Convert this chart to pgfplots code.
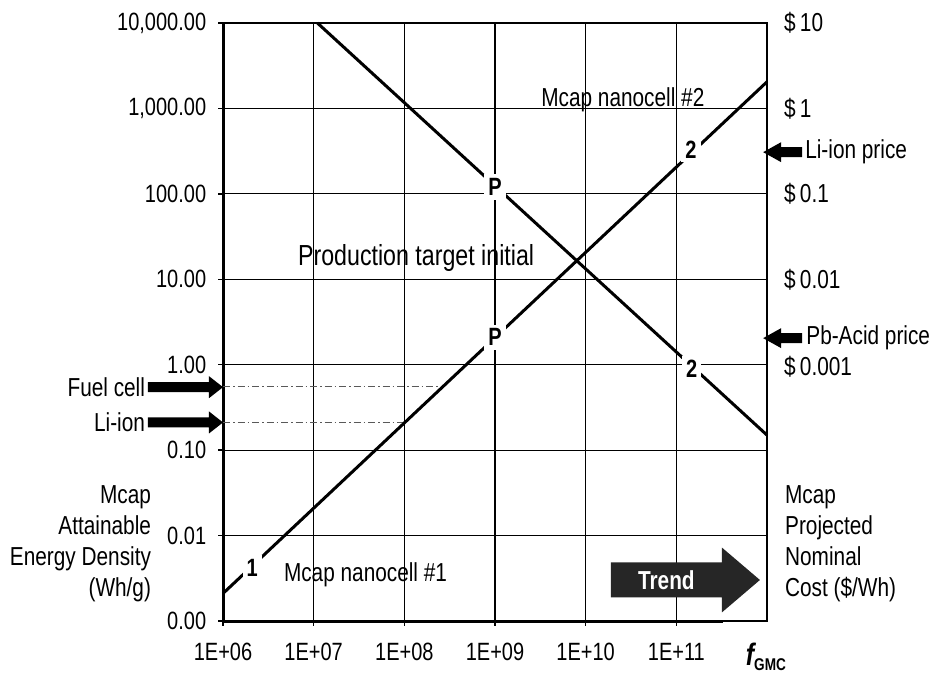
\documentclass[border=0pt]{standalone}
\usepackage{pgfplots}
\pgfplotsset{compat=1.18}
\usepackage{fontspec}
\setmainfont{Liberation Sans}[FakeStretch=0.8]

% data (log-log)
\pgfplotstableread{
x y
1e6 0.0021
1e12 2050
}\nanocellone
\pgfplotstableread{
x y
1.1e7 10000
1e12 0.15
}\nanocelltwo

\begin{document}
\fontsize{26}{31}\selectfont
\begin{tikzpicture}
\useasboundingbox (-223pt,-54pt) rectangle (712pt,621pt);
\begin{axis}[
  at={(0,0)}, anchor=south west,
  scale only axis, width=544pt, height=598pt,
  xmode=log, ymode=log,
  xmin=1e6, xmax=1e12, ymin=1e-3, ymax=1e4,
  xtick={1e6,1e7,1e8,1e9,1e10,1e11},
  xticklabels={1E+06,1E+07,1E+08,1E+09,1E+10,1E+11},
  ytick={1e-3,1e-2,1e-1,1,10,100,1000,10000},
  yticklabels={0.00,0.01,0.10,1.00,10.00,100.00,{1,000.00},{10,000.00}},
  xminorticks=false, yminorticks=false,
  xtick pos=left, ytick pos=left,
  tick align=outside, major tick length=5pt,
  tick style={black, line width=1.5pt},
  tick label style={font=\fontsize{25}{28}\selectfont},
  yticklabel style={xshift=-3pt},
  xticklabel style={yshift=-8pt},
  grid=major,
  major grid style={black, line width=1.1pt},
  axis line style={black, line width=1.3pt},
  clip=false,
]
% thick left and bottom axis lines
\draw[line width=3pt] (rel axis cs:0,1) -- (rel axis cs:0,0) -- (rel axis cs:0.92,0);

% reference levels
\addplot[black!65, line width=1pt, dash pattern=on 7pt off 3pt on 1.5pt off 3pt]
  coordinates {(1e6,0.55) (2.75e8,0.55)};
\addplot[black!65, line width=1pt, dash pattern=on 7pt off 3pt on 1.5pt off 3pt]
  coordinates {(1e6,0.21) (1.05e8,0.21)};

% trend lines
\addplot[black, line width=3pt] table {\nanocellone};
\addplot[black, line width=3pt] table {\nanocelltwo};

% point labels on the lines
\tikzset{lbl/.style={fill=white, inner sep=4pt, font=\bfseries\fontsize{25}{27}\selectfont}}
\node[lbl] at (axis cs:2.1e6,0.0042) {1};
\node[lbl] at (axis cs:1e9,2.1) {P};
\node[lbl] at (axis cs:1e9,120) {P};
\node[lbl] at (axis cs:1.45e11,330) {2};
\node[lbl] at (axis cs:1.48e11,0.9) {2};

% text inside the plot
\node[font=\fontsize{29}{31}\selectfont] at (rel axis cs:0.355,0.607) {Production target initial};
\node at (rel axis cs:0.735,0.871) {Mcap nanocell \#2};
\node at (rel axis cs:0.262,0.077) {Mcap nanocell \#1};

% trend arrow
\fill[black!85] (rel axis cs:0.713,0.0393) -- (rel axis cs:0.917,0.0393)
  -- (rel axis cs:0.917,0.0143) -- (rel axis cs:0.987,0.0686)
  -- (rel axis cs:0.917,0.1229) -- (rel axis cs:0.917,0.0979)
  -- (rel axis cs:0.713,0.0979) -- cycle;
\node[white, font=\bfseries\fontsize{26}{28}\selectfont] at (rel axis cs:0.815,0.0686) {Trend};

% anchor points for the markers outside the plot
\coordinate (fuel) at (rel axis cs:0,0.391);
\coordinate (liion) at (rel axis cs:0,0.332);
\coordinate (liprice) at (rel axis cs:0.993,0.784);
\coordinate (pbprice) at (rel axis cs:0.993,0.473);

\tikzset{side/.style={inner sep=0pt}}
\node[side, anchor=east] at (rel axis cs:-0.143,0.391) {Fuel cell};
\node[side, anchor=east] at (rel axis cs:-0.143,0.332) {Li-ion};
\node[side, anchor=east, align=right] at (rel axis cs:-0.132,0.129)
  {Mcap\\Attainable\\Energy Density\\(Wh/g)};

% right side: cost scale
\node[side, anchor=west] at (rel axis cs:1.031,1.0) {\$\,10};
\node[side, anchor=west] at (rel axis cs:1.031,0.857) {\$\,1};
\node[side, anchor=west] at (rel axis cs:1.031,0.714) {\$\,0.1};
\node[side, anchor=west] at (rel axis cs:1.031,0.571) {\$\,0.01};
\node[side, anchor=west] at (rel axis cs:1.031,0.425) {\$\,0.001};
\node[side, anchor=west] at (rel axis cs:1.070,0.784) {Li-ion price};
\node[side, anchor=west] at (rel axis cs:1.072,0.473) {Pb-Acid price};
\node[side, anchor=west, align=left] at (rel axis cs:1.033,0.129)
  {Mcap\\Projected\\Nominal\\Cost (\$/Wh)};

% x axis name
\node at (rel axis cs:0.998,-0.060)
  {{\bfseries\itshape\fontsize{31}{31}\selectfont f}\raisebox{-0.4ex}{\bfseries\fontsize{17}{17}\selectfont GMC}};
\end{axis}

% block arrows pointing at the axes
\fill (fuel) -- ++(-14pt,11pt) -- ++(0,-6pt) -- ++(-61pt,0)
  -- ++(0,-10pt) -- ++(61pt,0) -- ++(0,-6pt) -- cycle;
\fill (liion) -- ++(-14pt,11pt) -- ++(0,-6pt) -- ++(-61pt,0)
  -- ++(0,-10pt) -- ++(61pt,0) -- ++(0,-6pt) -- cycle;
\fill (liprice) -- ++(18pt,10pt) -- ++(0,-5pt) -- ++(21pt,0)
  -- ++(0,-10pt) -- ++(-21pt,0) -- ++(0,-5pt) -- cycle;
\fill (pbprice) -- ++(18pt,10pt) -- ++(0,-5pt) -- ++(21pt,0)
  -- ++(0,-10pt) -- ++(-21pt,0) -- ++(0,-5pt) -- cycle;
\end{tikzpicture}
\end{document}
